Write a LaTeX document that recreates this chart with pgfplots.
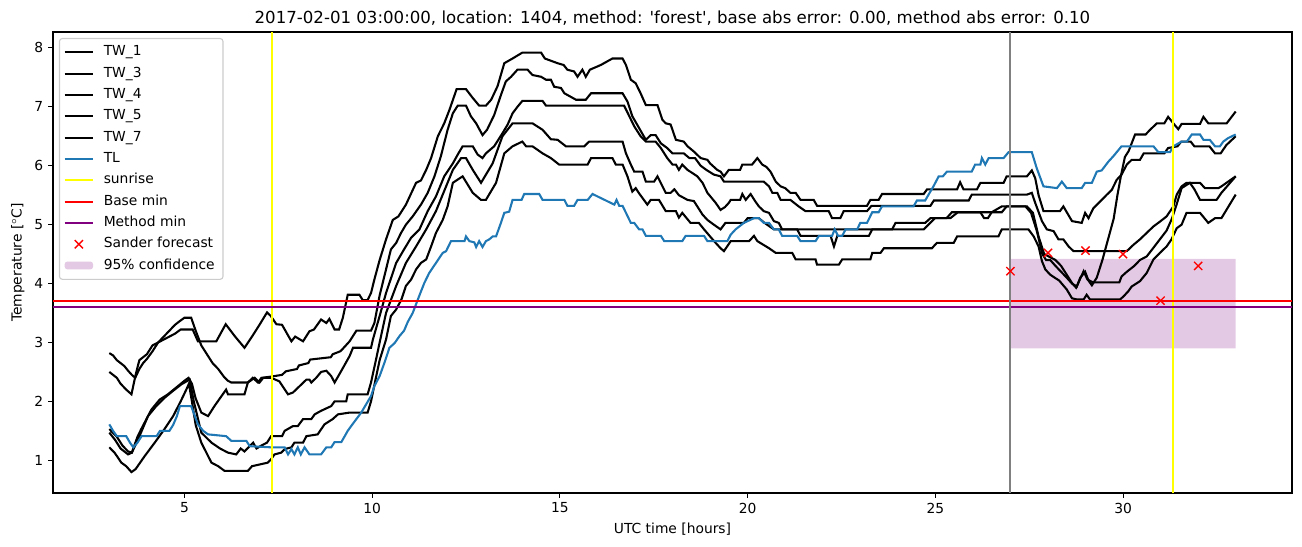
\documentclass[border=0pt]{standalone}
\usepackage{fontspec}
\setmainfont{DejaVu Sans}
\usepackage{pgfplots}
\pgfplotsset{compat=1.18}
\definecolor{tlblue}{HTML}{1F77B4}
\definecolor{mpurple}{HTML}{800080}
\definecolor{myellow}{HTML}{FFFF00}
\definecolor{mgray}{HTML}{808080}
\definecolor{lgray}{HTML}{CCCCCC}
\colorlet{conffill}{mpurple!21!white}
\begin{document}
\begin{tikzpicture}
\useasboundingbox (-0.53in,-0.54in) rectangle (12.49in,4.93in);
\begin{axis}[
 at={(0,0)}, anchor=south west,
 width=12.39in, height=4.61in, scale only axis,
 xmin=1.5, xmax=34.5, ymin=0.445, ymax=8.27,
 xtick={5,10,...,30}, ytick={1,...,8},
 tick align=outside, major tick length=3.5pt,
 tick style={black, line width=0.8pt},
 axis line style={line width=0.8pt},
 xtick pos=bottom, ytick pos=left,
 every tick label/.append style={font=\fontsize{10}{12}\selectfont},
 /pgf/number format/assume math mode=true,
 xlabel={UTC time [hours]}, ylabel={Temperature [$^\circ$C]},
 xlabel style={at={(axis description cs:0.5,-0.0781)}, anchor=center, font=\fontsize{10}{12}\selectfont},
 ylabel style={at={(axis description cs:-0.0283,0.5)}, anchor=center, font=\fontsize{10}{12}\selectfont},
 title={2017-02-01 03:00:00, location: 1404, method: \textquotesingle forest\textquotesingle, base abs error: 0.00, method abs error: 0.10},
 title style={at={(axis description cs:0.5,1.0304)}, anchor=center, yshift=-6pt, font=\fontsize{12}{14}\selectfont},
 legend cell align=left,
 legend style={at={(axis description cs:0.0048,0.987)}, anchor=north west,
   draw=lgray, line width=0.8pt, fill=white, rounded corners=2pt,
   font=\fontsize{10}{12}\selectfont, inner xsep=3pt, inner ysep=3pt, row sep=1.4pt, column sep=4pt,
   nodes={inner ysep=2pt, inner xsep=3pt, text height=7.6pt, text depth=2.4pt}},
 legend image code/.code={\draw[#1] (0cm,0cm) -- (0.72cm,0cm);},
]
% confidence region
\addplot[draw=none, fill=conffill, forget plot] coordinates {(27,2.9) (27,4.42) (33,4.42) (33,2.9) (27,2.9)};

% TW_1
\addplot[black, line width=1.5pt, forget plot] coordinates {
(3.0,2.82) (3.1,2.78) (3.2,2.7) (3.3,2.65) (3.4,2.6) (3.5,2.52) (3.6,2.45) (3.69,2.4) (3.8,2.55) (3.9,2.65) (4.0,2.72) (4.15,2.85) (4.3,3.0) (4.45,3.05) (4.6,3.1) (4.75,3.15) (4.9,3.22) (5.22,3.22) (5.36,3.02) (5.85,3.02) (6.1,3.31) (6.35,3.1) (6.6,2.91) (6.8,3.1) (7.0,3.3) (7.2,3.51) (7.3,3.45) (7.45,3.31) (7.6,3.3) (7.85,3.02) (7.95,3.1) (8.16,3.02) (8.33,3.19) (8.45,3.22) (8.64,3.39) (8.78,3.33) (8.86,3.4) (9.0,3.22) (9.12,3.22) (9.22,3.42) (9.35,3.81) (9.66,3.81) (9.75,3.72) (9.88,3.72) (9.97,3.84) (10.06,4.07) (10.2,4.4) (10.37,4.75) (10.55,5.08) (10.7,5.14) (10.9,5.34) (11.17,5.71) (11.3,5.75) (11.44,5.93) (11.57,6.13) (11.75,6.5) (11.92,6.72) (12.06,6.95) (12.25,7.3) (12.5,7.3) (12.68,7.15) (12.85,7.02) (13.03,7.02) (13.17,7.12) (13.34,7.35) (13.52,7.74) (13.74,7.82) (14.0,7.92) (14.5,7.92) (14.6,7.82) (14.94,7.74) (15.1,7.71) (15.2,7.63) (15.38,7.6) (15.47,7.51) (15.6,7.63) (15.69,7.51) (15.8,7.63) (16.09,7.71) (16.4,7.82) (16.67,7.82) (16.76,7.71) (16.89,7.46) (17.02,7.4) (17.15,7.23) (17.29,7.03) (17.6,7.03) (17.73,6.78) (17.82,6.72) (17.95,6.7) (18.09,6.44) (18.3,6.41) (18.4,6.33) (18.57,6.24) (18.75,6.13) (18.93,6.1) (19.0,6.04) (19.19,5.93) (19.28,5.9) (19.37,5.82) (19.5,5.93) (19.8,5.93) (19.86,6.02) (20.12,6.02) (20.26,6.13) (20.39,6.02) (20.5,5.98) (20.61,5.9) (20.75,5.73) (20.88,5.65) (21.0,5.62) (21.14,5.54) (21.28,5.54) (21.41,5.42) (21.76,5.42) (21.85,5.32) (23.18,5.32) (23.27,5.42) (23.49,5.42) (23.58,5.52) (24.69,5.52) (24.78,5.6) (25.58,5.6) (25.66,5.72) (25.75,5.6) (26.11,5.6) (26.2,5.71) (26.82,5.71) (26.9,5.82) (27.44,5.82) (27.57,5.92) (27.66,5.79) (27.75,5.5) (27.88,5.23) (28.32,5.23) (28.41,5.31) (28.64,5.06) (28.9,5.03) (28.99,5.2) (29.08,5.11) (29.21,5.28) (29.4,5.4) (29.57,5.51) (29.7,5.59) (29.83,5.76) (29.96,5.85) (30.1,6.02) (30.23,6.1) (30.45,6.1) (30.55,6.21) (31.1,6.21) (31.2,6.3) (31.45,6.33) (31.55,6.41) (31.8,6.41) (31.9,6.33) (32.3,6.33) (32.45,6.21) (32.6,6.21) (32.75,6.35) (33.0,6.5)};

% TW_3
\addplot[black, line width=1.5pt, forget plot] coordinates {
(3.0,2.5) (3.1,2.45) (3.2,2.4) (3.3,2.3) (3.45,2.2) (3.59,2.12) (3.7,2.45) (3.8,2.7) (3.9,2.75) (4.0,2.8) (4.15,2.95) (4.3,3.0) (4.45,3.1) (4.6,3.2) (4.75,3.3) (4.85,3.35) (5.0,3.42) (5.18,3.42) (5.3,3.2) (5.45,2.95) (5.6,2.8) (5.75,2.65) (5.9,2.55) (6.05,2.42) (6.16,2.35) (6.25,2.32) (6.69,2.32) (6.82,2.4) (6.96,2.32) (7.05,2.4) (7.3,2.42) (7.6,2.45) (7.7,2.51) (8.0,2.55) (8.05,2.61) (8.3,2.65) (8.35,2.71) (8.9,2.75) (8.95,2.8) (9.15,2.85) (9.2,2.88) (9.4,3.02) (9.58,3.2) (9.97,3.2) (10.06,3.33) (10.2,3.8) (10.37,4.24) (10.5,4.58) (10.64,4.69) (10.77,4.86) (10.9,5.0) (11.08,5.14) (11.3,5.34) (11.48,5.54) (11.66,5.82) (11.83,6.16) (12.01,6.61) (12.15,6.89) (12.28,7.02) (12.5,7.02) (12.63,6.84) (12.77,6.72) (12.94,6.52) (13.06,6.61) (13.25,6.86) (13.43,7.2) (13.56,7.43) (13.7,7.51) (13.87,7.63) (14.14,7.63) (14.27,7.54) (14.5,7.51) (14.63,7.46) (14.76,7.46) (14.85,7.34) (15.03,7.32) (15.12,7.23) (15.43,7.12) (15.69,7.12) (15.83,7.23) (16.67,7.23) (16.8,7.09) (16.93,6.84) (17.11,6.64) (17.29,6.44) (17.42,6.52) (17.55,6.52) (17.69,6.38) (17.86,6.3) (18.0,6.21) (18.3,6.21) (18.45,6.13) (18.6,6.13) (18.75,6.0) (18.9,5.93) (19.1,5.85) (19.28,5.82) (19.37,5.73) (20.43,5.73) (20.57,5.65) (20.66,5.54) (20.79,5.54) (20.88,5.42) (21.14,5.42) (21.36,5.31) (21.54,5.23) (22.16,5.23) (22.25,5.11) (22.47,5.11) (22.56,5.23) (23.18,5.23) (23.3,5.32) (24.87,5.32) (24.96,5.41) (25.89,5.41) (25.97,5.51) (27.44,5.51) (27.57,5.54) (27.66,5.37) (27.84,5.06) (27.97,4.92) (28.15,4.89) (28.28,4.75) (28.41,4.75) (28.55,4.63) (28.68,4.55) (30.1,4.55) (30.28,4.66) (30.45,4.75) (30.63,4.86) (30.81,4.97) (30.98,5.05) (31.16,5.14) (31.34,5.31) (31.43,5.51) (31.56,5.65) (31.69,5.71) (32.05,5.71) (32.18,5.62) (32.54,5.62) (32.62,5.65) (33.0,5.82)};

% TW_4
\addplot[black, line width=1.5pt, forget plot] coordinates {
(3.0,1.53) (3.2,1.4) (3.35,1.25) (3.5,1.15) (3.6,1.13) (3.75,1.4) (3.85,1.53) (4.12,1.86) (4.34,2.03) (4.56,2.12) (4.83,2.26) (5.0,2.35) (5.11,2.4) (5.2,2.3) (5.3,2.05) (5.45,1.81) (5.63,1.75) (5.8,1.92) (6.11,2.2) (6.16,2.12) (6.6,2.12) (6.69,2.32) (6.87,2.4) (7.0,2.32) (7.1,2.4) (7.31,2.4) (7.53,2.34) (7.76,2.12) (7.89,2.15) (8.07,2.26) (8.25,2.37) (8.33,2.37) (8.38,2.32) (8.51,2.4) (8.64,2.5) (8.78,2.52) (8.91,2.43) (9.0,2.32) (9.18,2.52) (9.4,2.77) (9.49,2.91) (9.97,2.91) (10.02,3.05) (10.2,3.45) (10.37,3.84) (10.64,4.35) (10.85,4.58) (11.04,4.78) (11.26,4.92) (11.48,5.23) (11.7,5.48) (11.92,5.82) (12.15,6.04) (12.28,6.19) (12.41,6.33) (12.68,6.33) (12.81,6.19) (12.94,6.13) (13.03,6.21) (13.25,6.33) (13.47,6.55) (13.61,6.7) (13.74,6.89) (13.87,7.0) (14.0,7.1) (14.54,7.1) (14.63,7.02) (16.71,7.02) (16.85,6.84) (16.98,6.67) (17.15,6.5) (17.29,6.41) (17.55,6.41) (17.69,6.3) (17.86,6.13) (18.0,6.02) (18.09,6.02) (18.17,5.93) (18.26,6.02) (18.4,5.93) (18.66,5.82) (18.8,5.71) (18.93,5.54) (19.15,5.37) (19.28,5.25) (19.4,5.3) (19.5,5.37) (19.55,5.42) (19.8,5.42) (19.86,5.52) (19.95,5.42) (20.08,5.52) (20.2,5.4) (20.3,5.31) (20.43,5.23) (20.57,5.2) (20.7,5.06) (20.83,5.03) (20.92,4.92) (21.32,4.92) (21.41,4.81) (22.21,4.81) (22.3,4.63) (22.39,4.81) (23.23,4.81) (23.32,4.92) (23.85,4.92) (23.94,5.03) (24.73,5.03) (24.87,5.11) (25.3,5.11) (25.44,5.21) (26.2,5.21) (26.3,5.11) (26.4,5.11) (26.5,5.21) (26.77,5.31) (27.4,5.31) (27.55,5.2) (27.7,4.9) (27.85,4.5) (27.95,4.4) (28.06,4.4) (28.2,4.3) (28.35,4.2) (28.5,4.1) (28.64,4.0) (28.77,3.95) (28.86,4.1) (28.99,4.2) (29.08,4.05) (29.17,3.97) (29.3,4.1) (29.45,4.4) (29.6,4.75) (29.75,5.1) (29.85,5.5) (29.95,5.85) (30.05,6.15) (30.15,6.25) (30.32,6.53) (30.6,6.53) (30.72,6.61) (30.9,6.72) (31.1,6.72) (31.2,6.83) (31.34,6.72) (31.47,6.62) (31.56,6.71) (32.05,6.71) (32.14,6.83) (32.27,6.72) (32.76,6.72) (33.0,6.92)};

% TW_5
\addplot[black, line width=1.5pt, forget plot] coordinates {
(3.0,1.47) (3.15,1.35) (3.3,1.2) (3.5,1.1) (3.6,1.13) (3.77,1.36) (4.03,1.75) (4.25,1.92) (4.47,2.06) (4.7,2.18) (4.92,2.29) (5.14,2.37) (5.25,2.0) (5.45,1.47) (5.72,1.3) (5.95,1.2) (6.16,1.13) (6.38,1.1) (6.5,1.2) (6.6,1.15) (6.83,1.3) (6.92,1.2) (7.05,1.25) (7.2,1.3) (7.31,1.41) (7.6,1.41) (7.67,1.5) (7.89,1.58) (8.02,1.58) (8.16,1.7) (8.38,1.7) (8.47,1.78) (8.64,1.84) (8.91,1.92) (9.0,2.0) (9.31,2.0) (9.35,2.12) (9.88,2.12) (9.97,2.32) (10.1,2.7) (10.2,3.0) (10.37,3.5) (10.64,3.96) (10.9,4.35) (11.17,4.63) (11.44,4.92) (11.7,5.23) (11.97,5.65) (12.15,5.93) (12.37,6.13) (12.5,6.13) (12.68,5.93) (12.9,5.71) (13.21,6.04) (13.47,6.5) (13.74,6.72) (14.27,6.72) (14.54,6.61) (14.76,6.45) (14.94,6.44) (15.16,6.33) (15.65,6.33) (15.78,6.41) (16.67,6.41) (16.76,6.21) (16.89,6.02) (16.98,5.9) (17.2,5.9) (17.29,5.73) (17.51,5.73) (17.6,5.82) (17.82,5.54) (17.95,5.54) (18.05,5.6) (18.17,5.5) (18.4,5.42) (18.57,5.4) (18.8,5.17) (18.93,5.08) (19.1,5.0) (19.28,4.92) (19.41,5.03) (19.9,5.03) (20.0,5.11) (20.3,5.11) (20.45,5.03) (20.7,4.92) (24.69,4.92) (24.82,5.0) (24.99,5.11) (25.4,5.11) (25.6,5.21) (26.77,5.21) (26.9,5.31) (27.44,5.31) (27.6,5.2) (27.75,4.8) (27.9,4.5) (28.05,4.45) (28.2,4.4) (28.35,4.3) (28.5,4.15) (28.65,4.0) (28.75,3.93) (28.85,4.07) (28.95,4.21) (29.05,4.07) (29.2,4.02) (29.9,4.02) (29.96,4.12) (30.1,4.2) (30.3,4.3) (30.45,4.4) (30.63,4.46) (30.8,4.6) (30.98,4.75) (31.16,4.9) (31.3,5.1) (31.43,5.35) (31.56,5.62) (31.78,5.71) (31.9,5.6) (32.05,5.42) (32.49,5.42) (32.62,5.54) (33.0,5.82)};

% TW_7
\addplot[black, line width=1.5pt, forget plot] coordinates {
(3.0,1.22) (3.14,1.13) (3.32,0.96) (3.45,0.9) (3.59,0.8) (3.7,0.85) (3.94,1.07) (4.21,1.3) (4.47,1.53) (4.7,1.75) (4.9,2.0) (5.05,2.2) (5.12,2.3) (5.2,2.0) (5.3,1.6) (5.45,1.3) (5.72,0.96) (5.9,0.9) (6.07,0.82) (6.69,0.82) (6.8,0.9) (7.22,0.96) (7.31,1.02) (7.4,1.1) (7.58,1.13) (7.67,1.19) (7.85,1.22) (7.93,1.3) (8.16,1.3) (8.25,1.41) (8.55,1.44) (8.73,1.61) (8.95,1.7) (9.09,1.78) (9.4,1.81) (9.88,1.81) (9.97,2.0) (10.1,2.4) (10.2,2.7) (10.37,3.05) (10.5,3.45) (10.64,3.56) (10.78,3.73) (10.9,3.96) (11.04,4.07) (11.17,4.24) (11.3,4.35) (11.44,4.41) (11.57,4.63) (11.7,4.86) (11.88,5.08) (12.01,5.31) (12.15,5.71) (12.41,5.82) (12.68,5.54) (12.9,5.42) (13.03,5.42) (13.3,5.71) (13.52,6.21) (13.74,6.33) (14.0,6.41) (14.1,6.33) (14.27,6.33) (14.54,6.21) (14.76,6.13) (14.98,6.02) (15.74,6.02) (15.83,6.13) (16.4,6.13) (16.49,6.02) (16.67,6.02) (16.8,5.82) (16.93,5.56) (17.02,5.62) (17.1,5.54) (17.33,5.34) (17.42,5.42) (17.64,5.42) (17.82,5.23) (18.09,5.23) (18.17,5.12) (18.26,5.2) (18.48,5.03) (18.7,5.03) (18.84,4.92) (19.0,4.8) (19.15,4.69) (19.28,4.6) (19.37,4.55) (19.55,4.72) (20.04,4.72) (20.17,4.81) (20.26,4.72) (20.57,4.6) (20.75,4.52) (21.19,4.52) (21.28,4.41) (21.81,4.41) (21.85,4.32) (22.43,4.32) (22.52,4.41) (23.27,4.41) (23.32,4.52) (23.54,4.52) (23.63,4.6) (24.91,4.6) (25.04,4.69) (25.49,4.69) (25.58,4.8) (26.68,4.8) (26.77,4.92) (27.48,4.92) (27.62,4.8) (27.75,4.63) (27.84,4.38) (27.93,4.24) (28.06,4.15) (28.3,4.05) (28.5,3.9) (28.64,3.75) (28.77,3.73) (28.95,3.73) (29.03,3.81) (29.12,3.73) (29.92,3.73) (30.01,3.78) (30.14,3.87) (30.23,3.95) (30.45,4.04) (30.63,4.18) (30.81,4.41) (30.98,4.52) (31.16,4.63) (31.29,4.75) (31.43,4.94) (31.56,5.0) (31.69,5.2) (32.05,5.2) (32.27,5.03) (32.45,5.11) (32.62,5.11) (33.0,5.51)};

% TL
\addplot[tlblue, line width=1.5pt, forget plot] coordinates {
(3.0,1.61) (3.1,1.5) (3.2,1.41) (3.45,1.41) (3.55,1.3) (3.64,1.22) (3.75,1.3) (3.86,1.41) (4.26,1.41) (4.35,1.5) (4.6,1.5) (4.7,1.6) (4.8,1.75) (4.88,1.92) (5.18,1.92) (5.36,1.61) (5.5,1.5) (5.63,1.44) (6.11,1.41) (6.25,1.33) (6.65,1.33) (6.74,1.24) (7.31,1.22) (7.67,1.22) (7.76,1.1) (7.85,1.19) (7.93,1.1) (8.02,1.22) (8.1,1.1) (8.2,1.22) (8.33,1.1) (8.64,1.1) (8.78,1.22) (8.91,1.22) (9.0,1.31) (9.18,1.31) (9.27,1.41) (9.35,1.5) (9.44,1.58) (9.58,1.7) (9.71,1.81) (9.84,1.95) (9.97,2.09) (10.06,2.26) (10.2,2.43) (10.33,2.66) (10.46,2.91) (10.6,2.99) (10.73,3.11) (10.85,3.2) (10.95,3.35) (11.08,3.5) (11.26,3.8) (11.39,4.01) (11.52,4.18) (11.7,4.35) (11.88,4.52) (11.97,4.55) (12.1,4.72) (12.46,4.72) (12.5,4.8) (12.59,4.72) (12.72,4.7) (12.77,4.62) (12.85,4.72) (12.94,4.62) (13.03,4.72) (13.12,4.75) (13.21,4.8) (13.3,4.8) (13.43,5.03) (13.52,5.2) (13.65,5.22) (13.74,5.42) (13.98,5.42) (14.05,5.52) (14.45,5.52) (14.54,5.42) (15.12,5.42) (15.2,5.32) (15.38,5.32) (15.47,5.42) (15.74,5.42) (15.87,5.52) (16.45,5.34) (16.51,5.42) (16.58,5.32) (16.67,5.32) (16.89,5.03) (16.98,5.03) (17.11,4.92) (17.2,4.92) (17.29,4.81) (17.69,4.81) (17.78,4.72) (18.26,4.72) (18.35,4.81) (18.84,4.81) (18.93,4.72) (19.46,4.72) (19.55,4.83) (19.68,4.92) (19.9,5.03) (20.17,5.11) (20.3,5.11) (20.43,5.03) (20.57,5.03) (20.7,4.92) (20.83,4.92) (20.92,4.81) (21.32,4.81) (21.41,4.72) (21.81,4.72) (21.9,4.81) (22.25,4.81) (22.32,4.92) (22.41,4.81) (22.52,4.81) (22.61,4.92) (22.92,4.92) (23.0,5.03) (23.18,5.03) (23.32,5.21) (23.49,5.21) (23.58,5.31) (24.42,5.31) (24.51,5.41) (24.73,5.41) (24.82,5.51) (24.95,5.65) (25.09,5.82) (25.2,5.82) (25.31,5.9) (25.97,5.9) (26.06,6.02) (26.2,6.02) (26.24,6.13) (26.33,6.02) (26.42,6.13) (26.82,6.13) (26.95,6.23) (27.57,6.23) (27.7,5.96) (27.88,5.65) (28.24,5.62) (28.37,5.73) (28.5,5.62) (28.9,5.62) (28.99,5.71) (29.17,5.71) (29.3,5.9) (29.43,5.92) (29.61,6.07) (29.74,6.16) (29.83,6.23) (29.96,6.33) (30.81,6.33) (30.94,6.23) (31.25,6.23) (31.34,6.33) (31.56,6.41) (31.7,6.41) (31.83,6.53) (32.05,6.53) (32.14,6.44) (32.31,6.44) (32.45,6.33) (32.58,6.33) (32.67,6.41) (32.8,6.47) (33.0,6.53)};

% sunrise
\addplot[myellow, line width=1.5pt, forget plot] coordinates {(7.33,0.445) (7.33,8.27)};
\addplot[myellow, line width=1.5pt, forget plot] coordinates {(31.32,0.445) (31.32,8.27)};
% base / method min
\addplot[red, line width=1.5pt, forget plot] coordinates {(1.5,3.7) (34.5,3.7)};
\addplot[mpurple, line width=1.5pt, forget plot] coordinates {(1.5,3.6) (34.5,3.6)};
% forecast time
\addplot[mgray, line width=1.5pt, forget plot] coordinates {(27,0.445) (27,8.27)};
% Sander forecast
\addplot[only marks, mark=x, red, mark size=4.2pt, mark options={line width=1pt}, forget plot] coordinates {(27,4.21) (28,4.52) (29,4.56) (30,4.5) (31,3.71) (32,4.3)};

\addlegendimage{black, line width=1.5pt}\addlegendentry{TW\_1}
\addlegendimage{black, line width=1.5pt}\addlegendentry{TW\_3}
\addlegendimage{black, line width=1.5pt}\addlegendentry{TW\_4}
\addlegendimage{black, line width=1.5pt}\addlegendentry{TW\_5}
\addlegendimage{black, line width=1.5pt}\addlegendentry{TW\_7}
\addlegendimage{tlblue, line width=1.5pt}\addlegendentry{TL}
\addlegendimage{myellow, line width=1.5pt}\addlegendentry{sunrise}
\addlegendimage{red, line width=1.5pt}\addlegendentry{Base min}
\addlegendimage{mpurple, line width=1.5pt}\addlegendentry{Method min}
\addlegendimage{legend image code/.code={\draw[red, line width=1pt] (0.255cm,-0.105cm) -- (0.465cm,0.105cm) (0.255cm,0.105cm) -- (0.465cm,-0.105cm);}}\addlegendentry{Sander forecast}
\addlegendimage{legend image code/.code={\path[fill=conffill, draw=none] (0cm,-0.1cm) rectangle (0.72cm,0.1cm);}}\addlegendentry{95\% confidence}
\end{axis}
\end{tikzpicture}
\end{document}
